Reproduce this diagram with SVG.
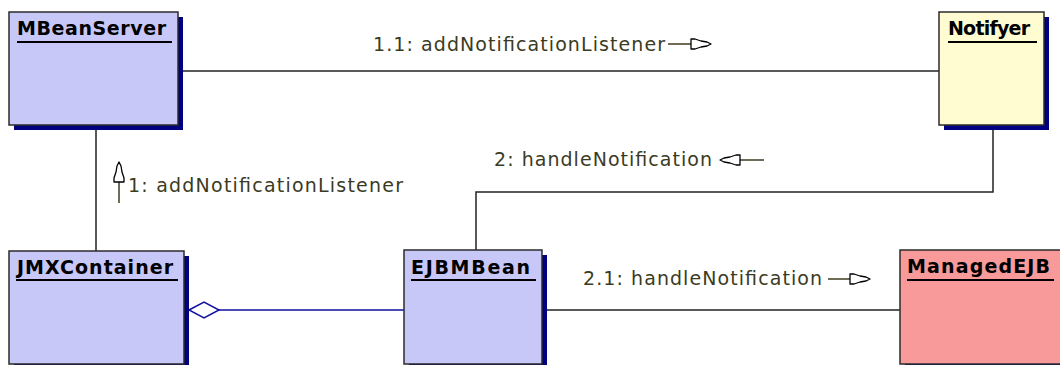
<svg xmlns="http://www.w3.org/2000/svg" xmlns:xlink="http://www.w3.org/1999/xlink" width="1060" height="365" viewBox="0 0 1060 365">
  <style>
    .box { stroke: #2b2b2b; stroke-width: 1.5; }
    .blue { fill: #c8c8f8; }
    .yellow { fill: #fffcd2; }
    .pink { fill: #f89a9a; }
    .shadow { fill: #000080; }
    .title { font-family: "DejaVu Sans", "Liberation Sans", sans-serif; font-weight: bold; font-size: 19px; fill: #000; }
    .uline { stroke: #000; stroke-width: 2; }
    .link { fill: none; stroke: #222; stroke-width: 1.5; }
    .agg { fill: none; stroke: #1010a0; stroke-width: 1.5; }
    .msg { font-family: "DejaVu Sans", "Liberation Sans", sans-serif; font-size: 19px; fill: #3b3b1f; }
    .shaft { stroke: #3b3b1f; stroke-width: 1.5; }
    .head { fill: #fff; stroke: #000; stroke-width: 1.3; stroke-linejoin: round; }
  </style>
  <defs>
    <!-- message arrowhead, base at origin, pointing along +x -->
    <polygon id="msgHead" class="head" points="0,-5 4,-5 10,-3 16,-2 20,0 16,2 10,3 4,5 0,5"/>
  </defs>

  <g id="connectors">
    <!-- MBeanServer — Notifyer -->
    <line class="link" x1="178" y1="71" x2="939" y2="71"/>
    <!-- MBeanServer — JMXContainer -->
    <line class="link" x1="96" y1="125" x2="96" y2="251"/>
    <!-- Notifyer — EJBMBean -->
    <polyline class="link" points="993,125 993,192 476,192 476,250"/>
    <!-- EJBMBean — ManagedEJB -->
    <line class="link" x1="542" y1="310" x2="900" y2="310"/>
    <!-- JMXContainer ◇— EJBMBean (aggregation) -->
    <line class="agg" x1="219" y1="310" x2="404" y2="310"/>
    <polygon class="agg" style="fill:#fff" points="189,310 204,302 219,310 204,318"/>

    <!-- message labels -->
    <g id="msg-1-1">
      <text class="msg" x="373" y="51" textLength="292" lengthAdjust="spacing">1.1: addNotificationListener</text>
      <line class="shaft" x1="668" y1="44" x2="691" y2="44"/>
      <use xlink:href="#msgHead" href="#msgHead" transform="translate(691,44)"/>
    </g>
    <g id="msg-1">
      <text class="msg" x="128" y="192" textLength="275" lengthAdjust="spacing">1: addNotificationListener</text>
      <line class="shaft" x1="119" y1="203" x2="119" y2="182"/>
      <use xlink:href="#msgHead" href="#msgHead" transform="translate(119,182) rotate(-90)"/>
    </g>
    <g id="msg-2">
      <text class="msg" x="494" y="166" textLength="218" lengthAdjust="spacing">2: handleNotification</text>
      <line class="shaft" x1="764" y1="160" x2="740" y2="160"/>
      <use xlink:href="#msgHead" href="#msgHead" transform="translate(740,160) rotate(180)"/>
    </g>
    <g id="msg-2-1">
      <text class="msg" x="583" y="285" textLength="239" lengthAdjust="spacing">2.1: handleNotification</text>
      <line class="shaft" x1="828" y1="279" x2="850" y2="279"/>
      <use xlink:href="#msgHead" href="#msgHead" transform="translate(850,279)"/>
    </g>
  </g>

  <g id="MBeanServer">
    <rect class="shadow" x="14" y="17" width="169" height="113"/>
    <rect class="box blue" x="9" y="12" width="169" height="113"/>
    <text class="title" x="17" y="35" textLength="149" lengthAdjust="spacing">MBeanServer</text>
    <line class="uline" x1="17" y1="42" x2="172" y2="42"/>
  </g>

  <g id="Notifyer">
    <rect class="shadow" x="944" y="17" width="105" height="113"/>
    <rect class="box yellow" x="939" y="12" width="105" height="113"/>
    <text class="title" x="948" y="35" textLength="82" lengthAdjust="spacing">Notifyer</text>
    <line class="uline" x1="948" y1="42" x2="1037" y2="42"/>
  </g>

  <g id="JMXContainer">
    <rect class="shadow" x="14" y="256" width="175" height="113"/>
    <rect class="box blue" x="9" y="251" width="175" height="113"/>
    <text class="title" x="17" y="274" textLength="156" lengthAdjust="spacing">JMXContainer</text>
    <line class="uline" x1="16" y1="280" x2="178" y2="280"/>
  </g>

  <g id="EJBMBean">
    <rect class="shadow" x="409" y="255" width="138" height="114"/>
    <rect class="box blue" x="404" y="250" width="138" height="114"/>
    <text class="title" x="411" y="274" textLength="119" lengthAdjust="spacing">EJBMBean</text>
    <line class="uline" x1="411" y1="280" x2="536" y2="280"/>
  </g>

  <g id="ManagedEJB">
    <rect class="shadow" x="905" y="255" width="162" height="114"/>
    <rect class="box pink" x="900" y="250" width="162" height="114"/>
    <text class="title" x="907" y="273" textLength="143" lengthAdjust="spacing">ManagedEJB</text>
    <line class="uline" x1="907" y1="280" x2="1054" y2="280"/>
  </g>
</svg>
